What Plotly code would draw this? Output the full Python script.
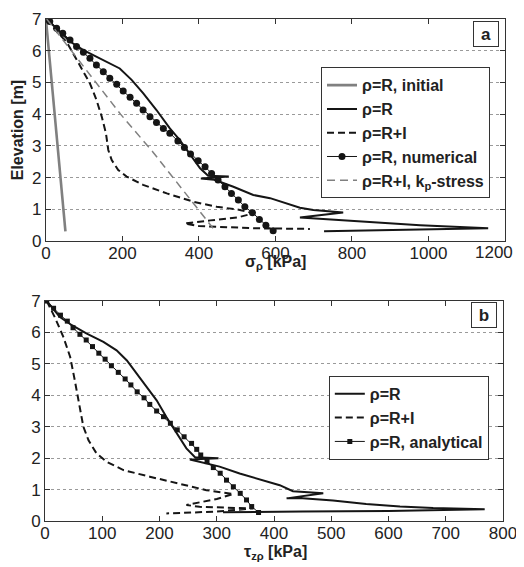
import plotly.graph_objects as go

# ---------------- Panel a: sigma_rho ----------------
a_init_x = [0, 51]
a_init_y = [7.0, 0.3]

a_R_x = [2, 32, 63, 98, 141, 193, 224, 254, 289, 324, 350, 376, 403, 424, 478, 405, 440,
         490, 542, 586, 629, 664, 699, 777, 664, 720, 847, 978, 1156, 900, 727]
a_R_y = [7.0, 6.65, 6.29, 6.02, 5.76, 5.44, 5.08, 4.66, 4.13, 3.55, 3.18, 2.76, 2.29, 2.06, 2.03, 1.97, 1.93,
         1.71, 1.45, 1.35, 1.19, 1.05, 0.98, 0.90, 0.74, 0.70, 0.61, 0.50, 0.40, 0.36, 0.31]

a_RI_x = [2, 32, 54, 89, 115, 132, 146, 157, 163, 172, 189, 211, 254, 316, 385, 446, 507, 542,
          500, 430, 363, 400, 550, 690]
a_RI_y = [7.0, 6.55, 6.28, 5.55, 4.97, 4.45, 3.92, 3.39, 2.87, 2.55, 2.24, 2.03, 1.77, 1.50, 1.24, 1.08, 0.98, 0.87,
          0.74, 0.65, 0.55, 0.47, 0.40, 0.38]

a_num_x = [2, 10, 28, 44, 63, 80, 98, 115, 132, 150, 167, 185, 202, 220, 237, 254, 272, 289, 307, 324,
           345, 362, 378, 398, 416, 433, 450, 468, 485, 503, 520, 540, 558, 575, 594]
a_num_y = [7.0, 6.92, 6.71, 6.55, 6.34, 6.13, 5.95, 5.76, 5.55, 5.34, 5.13, 4.94, 4.73, 4.53, 4.34, 4.13, 3.92, 3.74, 3.55, 3.40,
           3.15, 2.95, 2.74, 2.53, 2.34, 2.13, 1.92, 1.71, 1.50, 1.29, 1.08, 0.89, 0.68, 0.50, 0.32]

a_kp_x = [2, 195, 280, 420, 437]
a_kp_y = [7.0, 4.0, 2.8, 0.66, 0.40]

# ---------------- Panel b: tau_zrho ----------------
b_R_x = [3, 26, 47, 73, 102, 125, 143, 160, 177, 195, 212, 230, 247, 262, 303, 253, 280, 305, 340, 381,
         410, 433, 486, 422, 450, 503, 561, 620, 678, 768, 600, 450, 311]
b_R_y = [7.0, 6.49, 6.23, 5.96, 5.70, 5.43, 5.11, 4.69, 4.27, 3.84, 3.31, 2.79, 2.31, 2.03, 2.00, 1.96, 1.85, 1.73, 1.51, 1.30,
         1.14, 0.95, 0.88, 0.72, 0.72, 0.65, 0.54, 0.46, 0.41, 0.37, 0.32, 0.30, 0.28]

b_RI_x = [3, 17, 32, 44, 52, 60, 67, 76, 90, 108, 137, 183, 230, 282, 329, 300, 247, 270, 364, 300, 212]
b_RI_y = [7.0, 6.49, 5.86, 5.22, 4.48, 3.74, 3.00, 2.57, 2.15, 1.88, 1.62, 1.41, 1.20, 0.98, 0.86, 0.70, 0.51, 0.45, 0.40, 0.30, 0.24]

b_an_x = [3, 15, 27, 39, 49, 61, 72, 83, 94, 105, 116, 128, 140, 150, 161, 173, 183, 195, 207, 219,
          231, 243, 256, 265, 272, 283, 294, 306, 317, 329, 341, 352, 361, 373]
b_an_y = [7.0, 6.77, 6.55, 6.36, 6.15, 5.94, 5.76, 5.55, 5.34, 5.15, 4.94, 4.73, 4.52, 4.33, 4.11, 3.92, 3.71, 3.50, 3.32, 3.11,
          2.90, 2.68, 2.47, 2.28, 2.10, 1.89, 1.70, 1.52, 1.30, 1.09, 0.88, 0.67, 0.46, 0.27]

a_xticks = [0, 200, 400, 600, 800, 1000, 1200]
a_xlabels = ["0", "200", "400", "600", "800", "1000", "1200"]
b_xticks = [0, 100, 200, 300, 400, 500, 600, 700, 800]
yticks = [0, 1, 2, 3, 4, 5, 6, 7]

BLACK = "#151515"
GRAY = "#808080"
FONT = "Liberation Sans, Arial, sans-serif"

# the last label sits pulled inside the frame edge (as in the original): drawn as an annotation
a_xlabel_text = a_xlabels[:-1] + [""]

fig = go.Figure()

fig.add_trace(go.Scatter(x=a_init_x, y=a_init_y, mode="lines", name="ρ=R, initial",
                         line=dict(color=GRAY, width=2.6), xaxis="x", yaxis="y", legend="legend"))
fig.add_trace(go.Scatter(x=a_R_x, y=a_R_y, mode="lines", name="ρ=R",
                         line=dict(color=BLACK, width=2), xaxis="x", yaxis="y", legend="legend"))
fig.add_trace(go.Scatter(x=a_RI_x, y=a_RI_y, mode="lines", name="ρ=R+I",
                         line=dict(color=BLACK, width=2, dash="7px,4px"), xaxis="x", yaxis="y", legend="legend"))
fig.add_trace(go.Scatter(x=a_num_x, y=a_num_y, mode="lines+markers", name="ρ=R, numerical",
                         line=dict(color=BLACK, width=1), marker=dict(symbol="circle", size=7, color=BLACK),
                         xaxis="x", yaxis="y", legend="legend"))
fig.add_trace(go.Scatter(x=a_kp_x, y=a_kp_y, mode="lines", name="ρ=R+I, k<sub>p</sub>-stress",
                         line=dict(color=GRAY, width=1.5, dash="8px,5px"), xaxis="x", yaxis="y", legend="legend"))

fig.add_trace(go.Scatter(x=b_R_x, y=b_R_y, mode="lines", name="ρ=R",
                         line=dict(color=BLACK, width=2), xaxis="x2", yaxis="y2", legend="legend2"))
fig.add_trace(go.Scatter(x=b_RI_x, y=b_RI_y, mode="lines", name="ρ=R+I",
                         line=dict(color=BLACK, width=2, dash="7px,4px"), xaxis="x2", yaxis="y2", legend="legend2"))
fig.add_trace(go.Scatter(x=b_an_x, y=b_an_y, mode="lines+markers", name="ρ=R, analytical",
                         line=dict(color=BLACK, width=1), marker=dict(symbol="square", size=5, color=BLACK),
                         xaxis="x2", yaxis="y2", legend="legend2"))

axis_common = dict(showline=True, linecolor="#333333", linewidth=1, mirror="ticks",
                   ticks="inside", ticklen=5, tickcolor="#333333", zeroline=False, automargin=False,
                   tickfont=dict(family=FONT, size=17, color="#222222"))

legend_font = dict(family=FONT, size=16, color="#222222", weight="bold")

# The page body has an 8px default margin, so the figure is 8px smaller and shifted.
fig.update_layout(
    width=516, height=559,
    margin=dict(l=37, r=19, t=11, b=46),
    paper_bgcolor="white", plot_bgcolor="white",
    showlegend=True,
    font=dict(family=FONT, color="#222222"),
    xaxis=dict(domain=[0.002, 1.0], range=[0, 1200], tickvals=a_xticks, ticktext=a_xlabel_text,
               showgrid=False, anchor="y", ticklabelstandoff=-3, **axis_common),
    yaxis=dict(domain=[0.5578, 1.0], range=[0, 7], tickvals=yticks, showgrid=True,
               gridcolor="#9a9a9a", griddash="dot", gridwidth=1, anchor="x", **axis_common),
    xaxis2=dict(domain=[0.0, 0.9957], range=[0, 800], tickvals=b_xticks, showgrid=False,
                anchor="y2", ticklabelstandoff=-3, **axis_common),
    yaxis2=dict(domain=[0.0, 0.4382], range=[0, 7], tickvals=yticks, showgrid=True,
                gridcolor="#9a9a9a", griddash="dot", gridwidth=1, anchor="x2", **axis_common),
    legend=dict(x=0.6, y=0.904, xanchor="left", yanchor="top", bgcolor="white",
                bordercolor="#333333", borderwidth=1, font=legend_font,
                tracegroupgap=0, itemwidth=30),
    legend2=dict(x=0.617, y=0.289, xanchor="left", yanchor="top", bgcolor="white",
                 bordercolor="#333333", borderwidth=1, font=legend_font,
                 tracegroupgap=0, itemwidth=30),
    annotations=[
        dict(text=a_xlabels[-1], x=a_xticks[-1], xref="x", y=0.5578, yref="paper", showarrow=False,
             xanchor="right", yanchor="top", xshift=10, yshift=0,
             font=dict(family=FONT, size=17, color="#222222")),
        dict(text="<b>a</b>", x=0.9587, y=0.970, xref="paper", yref="paper", showarrow=False,
             xanchor="center", yanchor="middle", font=dict(family=FONT, size=17, color="#222222"),
             bordercolor="#333333", borderwidth=1, bgcolor="white", width=22, height=22),
        dict(text="<b>b</b>", x=0.954, y=0.411, xref="paper", yref="paper", showarrow=False,
             xanchor="center", yanchor="middle", font=dict(family=FONT, size=17, color="#222222"),
             bordercolor="#333333", borderwidth=1, bgcolor="white", width=22, height=22),
        dict(text="<b>σ<sub>ρ</sub> [kPa]</b>", x=0.5, y=0.514, xref="paper", yref="paper", showarrow=False,
             xanchor="center", yanchor="middle", font=dict(family=FONT, size=16, color="#222222")),
        dict(text="<b>τ<sub>zρ</sub> [kPa]</b>", x=0.5, y=-0.062, xref="paper", yref="paper", showarrow=False,
             xanchor="center", yanchor="middle", font=dict(family=FONT, size=16, color="#222222")),
        dict(text="<b>Elevation [m]</b>", x=-0.058, y=0.779, xref="paper", yref="paper", showarrow=False,
             xanchor="center", yanchor="middle", textangle=-90, font=dict(family=FONT, size=16, color="#222222")),
    ],
)

fig.write_html("out.html")
